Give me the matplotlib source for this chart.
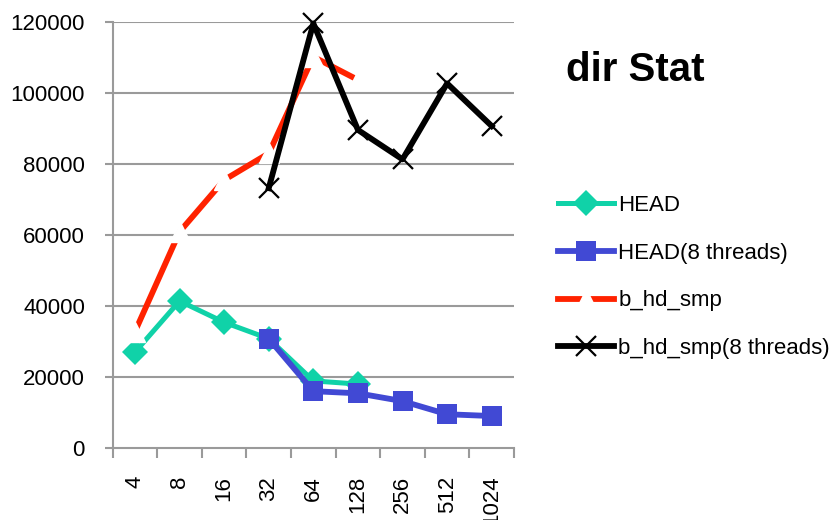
import matplotlib
matplotlib.use("Agg")
import matplotlib.pyplot as plt
import numpy as np

plt.rcParams['font.family'] = ['Liberation Sans', 'DejaVu Sans']

categories = ["4", "8", "16", "32", "64", "128", "256", "512", "1024"]
head = [27000, 41400, 35400, 30800, 18900, 18000, None, None, None]
head8 = [None, None, None, 30800, 16000, 15400, 13200, 9500, 9000]
bhd = [32800, 60900, 75500, 83000, 110200, 103700, None, None, None]
bhd8 = [None, None, None, 73200, 119600, 89600, 81300, 102700, 90700]

def arr(v):
    return np.array([np.nan if x is None else x for x in v], dtype=float)

fig = plt.figure(figsize=(8.33, 5.2), dpi=100)
ax = fig.add_axes([0.1353, 0.1385, 0.4817, 0.8192])
x = np.arange(len(categories))

grid_c = "#9a9a9a"
for yv in range(20000, 120001, 20000):
    ax.axhline(yv, color=grid_c, lw=1.5, zorder=0)

ax.plot(x, arr(head), color="#10D2A8", lw=3.6, marker="D", markersize=13,
        markeredgewidth=0, label="HEAD", zorder=2, clip_on=False)
ax.plot(x, arr(head8), color="#4149D4", lw=4.2, marker="s", markersize=15,
        markeredgewidth=0, label="HEAD(8 threads)", zorder=3, clip_on=False)
ax.plot(x, arr(bhd), color="#FF2200", lw=4.2, linestyle="-",
        marker="^", markersize=14, markerfacecolor="white", markeredgecolor="white",
        markeredgewidth=1, label="b_hd_smp", zorder=4, clip_on=False)
ax.plot(x, arr(bhd8), color="black", lw=4.2, marker="x", markersize=14,
        markeredgewidth=1.6, label="b_hd_smp(8 threads)", zorder=5, clip_on=False)

ax.set_xlim(-0.5, len(categories) - 0.5)
ax.set_ylim(0, 120000)
ax.set_yticks(range(0, 120001, 20000))
ax.set_yticklabels([str(v) for v in range(0, 120001, 20000)], fontsize=16)
ax.set_xticks(x)
ax.set_xticklabels(categories, rotation=90, fontsize=16, va="top")
ax.set_xticks(np.arange(-0.5, len(categories), 1), minor=True)
ax.tick_params(axis="x", which="major", length=0, pad=20)
ax.tick_params(axis="x", which="minor", length=7, width=1.5, color=grid_c, direction="out")
ax.tick_params(axis="y", length=6, width=1.5, color=grid_c, direction="out", pad=14)

for s in ["top", "right"]:
    ax.spines[s].set_visible(False)
for s in ["left", "bottom"]:
    ax.spines[s].set_color(grid_c)
    ax.spines[s].set_linewidth(1.5)

fig.text(0.680, 0.865, "dir Stat", fontsize=29, fontweight="bold", ha="left", va="center")

leg = fig.legend(loc="upper left", bbox_to_anchor=(0.670, 0.625), frameon=False,
                 fontsize=16, handlelength=2.5, handletextpad=0.2, labelspacing=1.2,
                 borderaxespad=0, borderpad=0)

fig.savefig("out.png", dpi=100)
